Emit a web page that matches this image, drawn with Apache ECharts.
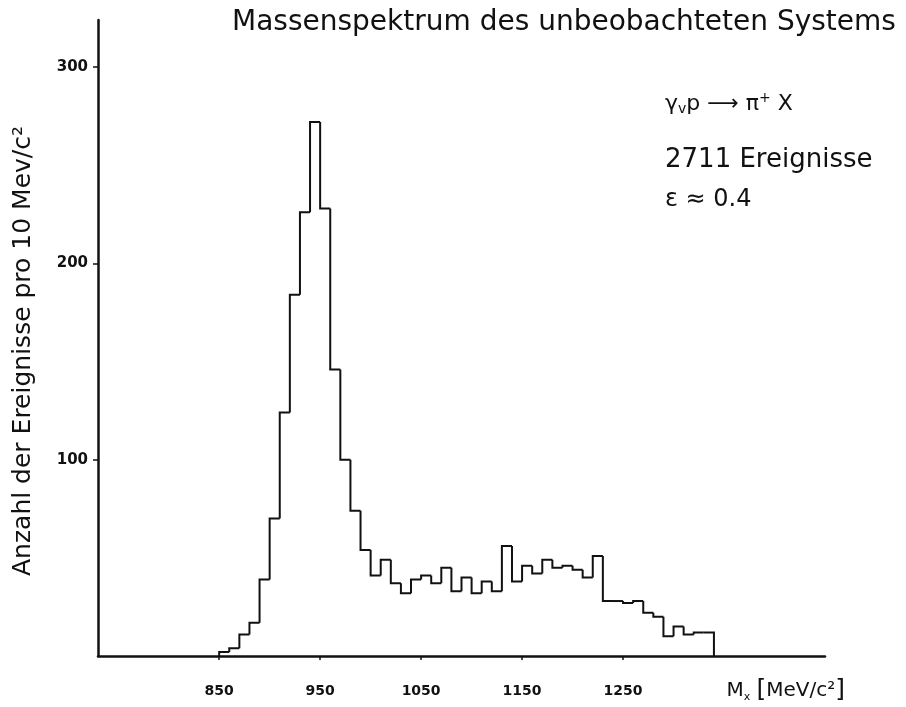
<!DOCTYPE html>
<html lang="de">
<head>
<meta charset="utf-8" />
<title>Massenspektrum des unbeobachteten Systems</title>
<script src="https://cdn.jsdelivr.net/npm/echarts@6/dist/echarts.min.js"></script>
<style>
  html, body { margin: 0; padding: 0; background: #fff; }
  #chart { width: 906px; height: 707px; }
</style>
</head>
<body>
<div id="chart"></div>
<script>
// Histogramm: Ereignisse pro 10 MeV/c^2, erster Bin beginnt bei 850
const binStart = 850;
const binWidth = 10;
const counts = [
  2, 4, 11, 17, 39, 70, 124, 184, 226, 272,
  228, 146, 100, 74, 54, 41, 49, 37, 32, 39,
  41, 37, 45, 33, 40, 32, 38, 33, 56, 38,
  46, 42, 49, 45, 46, 44, 40, 51, 28, 28,
  27, 28, 22, 20, 10, 15, 11, 12, 12
];
const xTicks = [850, 950, 1050, 1150, 1250];
const yTicks = [100, 200, 300];

// je Bin: [linke Kante, rechte Kante, Inhalt, Inhalt des Vorgängers, letzter?]
const bins = counts.map(function (c, i) {
  return [
    binStart + i * binWidth,
    binStart + (i + 1) * binWidth,
    c,
    i === 0 ? 0 : counts[i - 1],
    i === counts.length - 1 ? 1 : 0
  ];
});

const font = '"DejaVu Sans", sans-serif';
const ink = '#111';

// Treppenlinie als eigene Polylinie je Bin (keine Segmentvereinfachung)
function renderBin(params, api) {
  const pts = [
    api.coord([api.value(0), api.value(3)]),
    api.coord([api.value(0), api.value(2)]),
    api.coord([api.value(1), api.value(2)])
  ];
  if (api.value(4) === 1) {
    pts.push(api.coord([api.value(1), 0]));
  }
  return {
    type: 'polyline',
    shape: { points: pts },
    style: { stroke: ink, lineWidth: 2, fill: null, lineJoin: 'miter' }
  };
}

const chart = echarts.init(document.getElementById('chart'));
chart.setOption({
  backgroundColor: '#fff',
  animation: false,
  grid: { left: 98, right: 81, top: 20, bottom: 51, containLabel: false },
  xAxis: {
    type: 'value',
    min: 730,
    max: 1450,
    splitLine: { show: false },
    axisLine: { lineStyle: { color: ink, width: 2.5 } },
    axisTick: { show: true, customValues: xTicks, length: 4, lineStyle: { color: ink, width: 1.5 } },
    axisLabel: {
      customValues: xTicks,
      formatter: function (v) { return String(v); },
      margin: 28,
      color: ink,
      fontFamily: font,
      fontSize: 14,
      fontWeight: 'bold'
    },
    name: 'M{sub|x} {br|[}MeV/c²{br|]}',
    nameLocation: 'end',
    nameGap: 20,
    nameTextStyle: {
      align: 'right',
      verticalAlign: 'top',
      padding: [22, 0, 0, 0],
      color: ink,
      fontFamily: font,
      fontSize: 20,
      rich: {
        sub: { fontSize: 11, verticalAlign: 'bottom', padding: [8, 0, 0, 0], color: ink, fontFamily: font },
        br: { fontSize: 25, color: ink, fontFamily: font }
      }
    }
  },
  yAxis: {
    type: 'value',
    min: 0,
    max: 324,
    splitLine: { show: false },
    axisLine: { show: true, lineStyle: { color: ink, width: 2.5 } },
    axisTick: { show: true, customValues: yTicks, length: 5, lineStyle: { color: ink, width: 1.5 } },
    axisLabel: {
      customValues: yTicks,
      margin: 10,
      color: ink,
      fontFamily: font,
      fontSize: 15,
      fontWeight: 'bold'
    },
    name: 'Anzahl der Ereignisse pro 10 Mev/c²',
    nameLocation: 'middle',
    nameGap: 62,
    nameTextStyle: {
      color: ink,
      fontFamily: font,
      fontSize: 25,
      padding: [0, 26, 0, 0]
    }
  },
  series: [{
    type: 'custom',
    renderItem: renderBin,
    data: bins,
    encode: { x: [0, 1], y: 2 },
    clip: false
  }],
  graphic: [
    {
      type: 'text', x: 232, y: 23,
      style: {
        text: 'Massenspektrum des unbeobachteten Systems',
        font: '28px ' + font, fill: ink, verticalAlign: 'middle'
      }
    },
    {
      type: 'text', x: 665, y: 104,
      style: {
        text: 'γ{sub|v}p ⟶ π{sup|+} X',
        font: '22px ' + font, fill: ink, verticalAlign: 'middle',
        rich: {
          sub: { fontSize: 14, padding: [10, 0, 0, 0], fontFamily: font, fill: ink },
          sup: { fontSize: 14, padding: [0, 0, 12, 0], fontFamily: font, fill: ink }
        }
      }
    },
    {
      type: 'text', x: 665, y: 160,
      style: { text: '2711 Ereignisse', font: '26px ' + font, fill: ink, verticalAlign: 'middle' }
    },
    {
      type: 'text', x: 665, y: 200,
      style: { text: 'ε ≈ 0.4', font: '24px ' + font, fill: ink, verticalAlign: 'middle' }
    }
  ]
});
window.onresize = function () { chart.resize(); };
</script>
</body>
</html>
